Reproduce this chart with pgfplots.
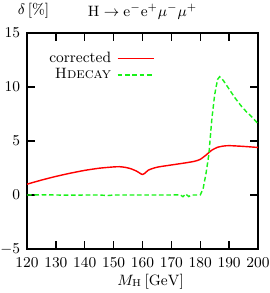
\documentclass[border=0pt]{standalone}
\usepackage{pgfplots}
\pgfplotsset{compat=1.18}
\definecolor{hgreen}{rgb}{0.1,0.95,0.1}
\begin{document}
\begin{tikzpicture}
\begin{axis}[
  name=ax,
  width=138.6pt, height=129.6pt, scale only axis,
  font=\small,
  xmin=120, xmax=200, ymin=-5, ymax=15,
  xtick={120,130,...,200}, ytick={-5,0,5,10,15},
  tick align=inside, major tick length=5pt,
  axis line style={line width=0.8pt},
  every tick/.style={line width=0.8pt, black},
  xticklabel style={font=\small, yshift=-2pt},
  yticklabel style={font=\small, xshift=-0.6pt},
  xlabel={$M_{\mathrm{H}}\,[\mathrm{GeV}]$},
  xlabel style={font=\small, at={(rel axis cs:0.535,0)}, anchor=base, yshift=-21.6pt},
  legend style={draw=none, fill=none, font=\small, at={(rel axis cs:0.088,0.92)}, anchor=north west, row sep=0pt, column sep=2.5pt, inner sep=0pt, nodes={inner sep=1pt}},
  legend cell align=right, legend plot pos=right,
  legend image post style={xscale=1.27},
  clip mode=individual,
]
\addplot[red, line width=0.85pt, smooth, tension=0.4] coordinates {
(120,1.0) (125,1.38) (130,1.72) (135,2.02) (140,2.28) (145,2.48) (150,2.60) (152,2.62) (154,2.56) (156,2.43) (158,2.2) (159.5,1.95) (160,1.9) (161,2.05) (162,2.3) (164,2.5) (166,2.62) (170,2.78) (175,2.98) (178,3.12) (180,3.3) (182,3.7) (184,4.15) (186,4.42) (188,4.53) (190,4.57) (195,4.5) (200,4.4)
};
\addlegendentry{corrected}
\addplot[hgreen, line width=0.85pt, dash pattern=on 2.8pt off 1.6pt] coordinates {
(120,0) (125,0.02) (130,0) (135,-0.02) (140,0) (145,0) (148,-0.05) (150,0) (155,0) (160,0) (165,0) (170,0) (173,0.02) (174,-0.15) (175,0.1) (176,-0.15) (177,0) (180,0) (181,0.6) (182,2.0) (183,3.8) (184,7.0) (185,9.3) (186,10.7) (186.7,10.95) (188,10.6) (190,9.8) (192,9.0) (194,8.3) (196,7.7) (198,7.2) (200,6.6)
};
\addlegendentry{\textsc{Hdecay}}
\node[anchor=base, font=\small] at (rel axis cs:0.5,1) [yshift=9.6pt] {$\mathrm{H}\to\mathrm{e^-e^+}\mu^-\mu^+$};
\node[anchor=base west, font=\small] at (rel axis cs:0,1) [xshift=-9pt, yshift=11pt] {$\delta\,[\%]$};
\end{axis}
\pgfresetboundingbox
\path ([xshift=-16.2pt, yshift=19.8pt]ax.north west) rectangle ([xshift=7.2pt, yshift=-26.4pt]ax.south east);
\end{tikzpicture}
\end{document}
